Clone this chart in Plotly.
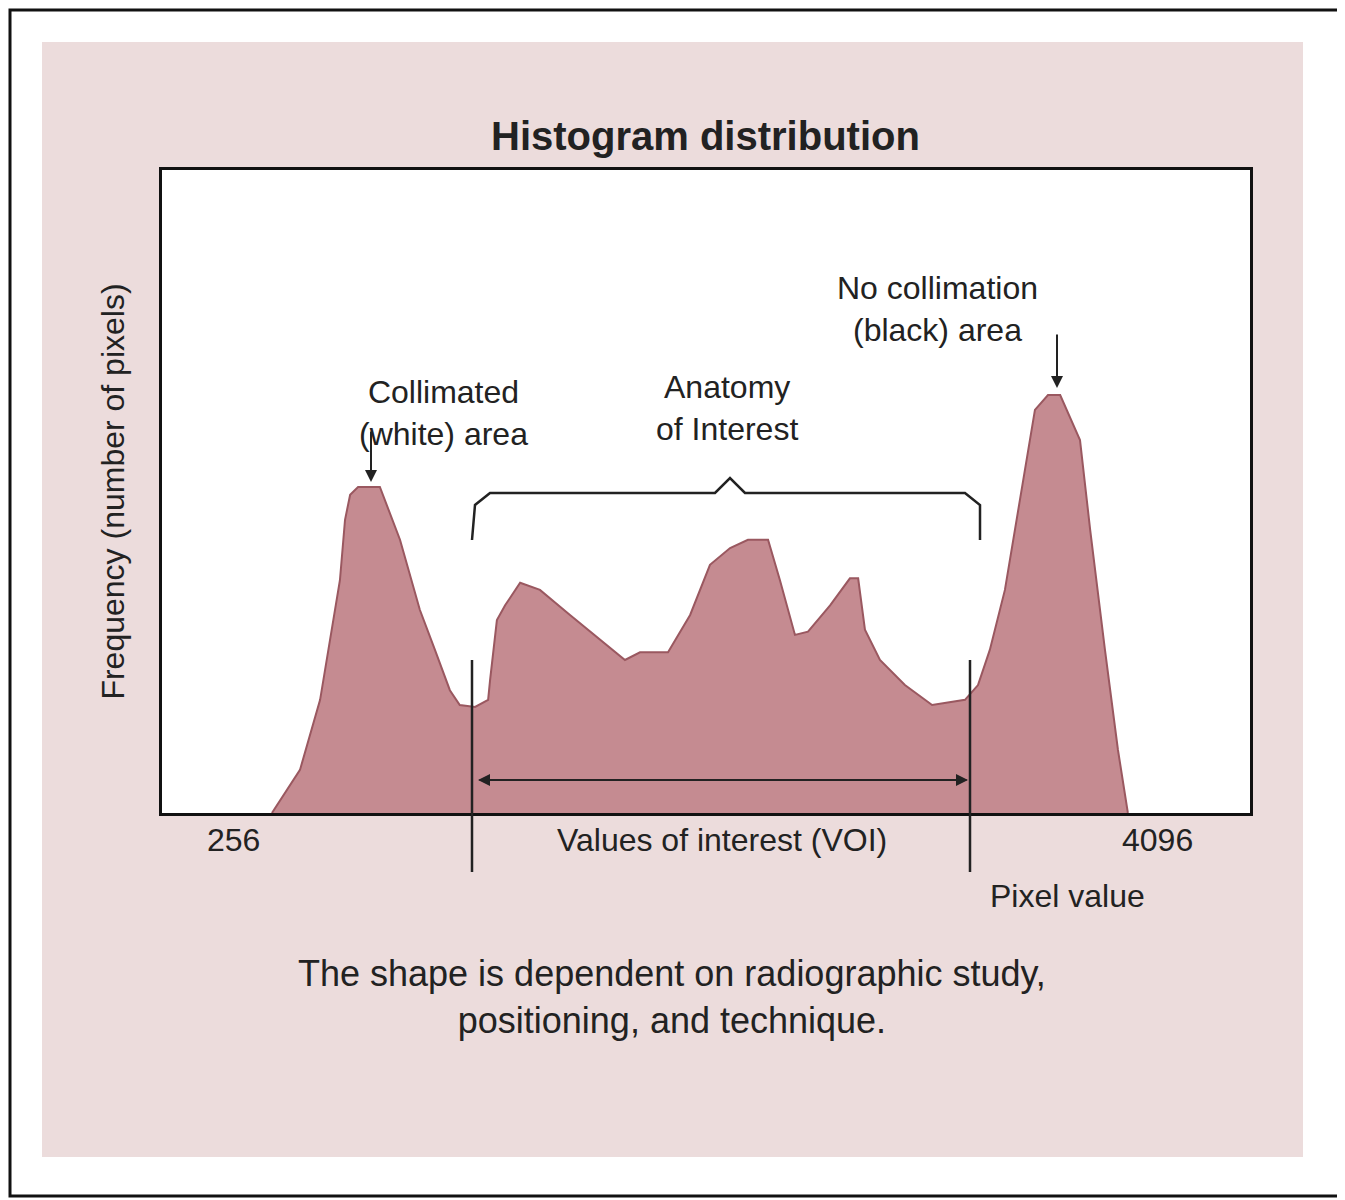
import plotly.graph_objects as go

# pixel value (x) vs relative frequency (0-100 of the plot height)
pixel_value = [644, 743, 814, 849, 884, 902, 920, 948, 1025, 1096, 1166, 1219, 1272, 1307,
               1361, 1407, 1414, 1438, 1467, 1520, 1590, 1696, 1802, 1890, 1943, 2042, 2120,
               2190, 2261, 2324, 2395, 2437, 2490, 2536, 2614, 2684, 2713, 2737, 2790, 2878,
               2974, 3090, 3136, 3178, 3231, 3284, 3337, 3383, 3426, 3496, 3532, 3584, 3630, 3665]
frequency = [0, 6.7, 17.6, 26.9, 36.2, 45.6, 49.5, 50.7, 50.7, 42.5, 31.6, 25.4, 19.1, 16.8,
             16.5, 17.6, 20.7, 30.0, 32.3, 35.8, 34.7, 30.8, 26.9, 23.8, 25.0, 25.0, 30.8,
             38.6, 41.2, 42.5, 42.5, 36.2, 27.7, 28.2, 32.3, 36.5, 36.5, 28.5, 23.8, 19.9,
             16.8, 17.6, 19.9, 25.4, 34.7, 48.7, 62.7, 65.0, 65.0, 58.0, 44.0, 25.4, 9.8, 0]

X0, X1 = 256, 4096
L, R, T, B = 162, 1250, 170, 813   # plot box in page pixels
OFF = 8                             # page body margin
W, H = 1345 - OFF, 1200 - OFF
FONT = "Liberation Sans"
INK = "#222222"


def px_x(px):
    return X0 + (px - L) / (R - L) * (X1 - X0)


def px_y(py):
    return (B - py) / (B - T) * 100


def px_paper(px, py):
    return (px - L) / (R - L), (B - py) / (B - T)


fig = go.Figure(go.Scatter(
    x=pixel_value, y=frequency, mode="lines", fill="tozeroy",
    fillcolor="#c58b91", line=dict(color="#9a5860", width=2), hoverinfo="skip"))

shapes = []
bx0, by0 = px_paper(10, 1196)
bx1, by1 = px_paper(1342, 10)
shapes.append(dict(type="rect", xref="paper", yref="paper", x0=bx0, y0=by0, x1=bx1, y1=by1,
                   line=dict(color="#111", width=3), fillcolor="white", layer="below"))
px0, py0 = px_paper(42, 1157)
px1, py1 = px_paper(1303, 42)
shapes.append(dict(type="rect", xref="paper", yref="paper", x0=px0, y0=py0, x1=px1, y1=py1,
                   line=dict(width=0), fillcolor="#ecdcdc", layer="below"))
# white plot area
shapes.append(dict(type="rect", xref="x", yref="y", x0=X0, x1=X1, y0=0, y1=100,
                   line=dict(width=0), fillcolor="white", layer="below"))
# VOI limit lines
for vx in (472, 970):
    shapes.append(dict(type="line", xref="x", yref="paper", x0=px_x(vx), x1=px_x(vx),
                       y0=px_paper(0, 872)[1], y1=px_paper(0, 660)[1],
                       line=dict(color=INK, width=2.5)))
# curly bracket
pts = [(472, 540), (475, 505), (490, 493), (715, 493), (730, 478), (745, 493),
       (965, 493), (980, 505), (980, 540)]
path = "M " + " L ".join(f"{px_x(a)},{px_y(b)}" for a, b in pts)
shapes.append(dict(type="path", path=path, line=dict(color=INK, width=2.5)))
fig.update_layout(shapes=shapes)

ann = []


def text(px, py, s, size=32, bold=False):
    x, y = px_paper(px, py)
    ann.append(dict(x=x, y=y, xref="paper", yref="paper",
                    text=f"<b>{s}</b>" if bold else s,
                    showarrow=False, font=dict(family=FONT, size=size, color=INK)))


def arrow(px, py0, py1):
    ann.append(dict(x=px_x(px), y=px_y(py1), ax=px_x(px), ay=px_y(py0), xref="x", yref="y",
                    axref="x", ayref="y", text="", showarrow=True, arrowhead=2,
                    arrowsize=1.2, arrowwidth=2, arrowcolor=INK))


text(705, 112, "Histogram distribution", size=40, bold=True)
text(205, 860, "256")
text(1195, 860, "4096")
text(1147, 916, "Pixel value")
text(722, 860, "Values of interest (VOI)")
text(357, 372, "Collimated<br>(white) area")
text(727, 408, "Anatomy<br>of Interest")
text(1040, 268, "No collimation<br>(black) area")
text(672, 1043, "The shape is dependent on radiographic study,<br>positioning, and technique.", size=36)
arrow(371, 430, 482)
arrow(1057, 333, 388)
for a, b in ((968, 478), (478, 968)):
    ann.append(dict(x=px_x(b), y=px_y(780), ax=px_x(a), ay=px_y(780), xref="x", yref="y",
                    axref="x", ayref="y", text="", showarrow=True, arrowhead=2,
                    arrowsize=1.2, arrowwidth=2, arrowcolor=INK))
fig.update_layout(annotations=ann)

fig.update_layout(
    width=W, height=H,
    margin=dict(l=L - OFF, r=W - (R - OFF), t=T - OFF, b=H - (B - OFF)),
    paper_bgcolor="white", plot_bgcolor="white", showlegend=False,
    xaxis=dict(range=[X0, X1], showticklabels=False, ticks="", showgrid=False, zeroline=False,
               showline=True, mirror=True, linecolor="#111", linewidth=3),
    yaxis=dict(range=[0, 100], showticklabels=False, ticks="", showgrid=False, zeroline=False,
               showline=True, mirror=True, linecolor="#111", linewidth=3,
               title=dict(text="Frequency (number of pixels)", standoff=25,
                          font=dict(family=FONT, size=32, color=INK))),
)
fig.write_html("out.html")
